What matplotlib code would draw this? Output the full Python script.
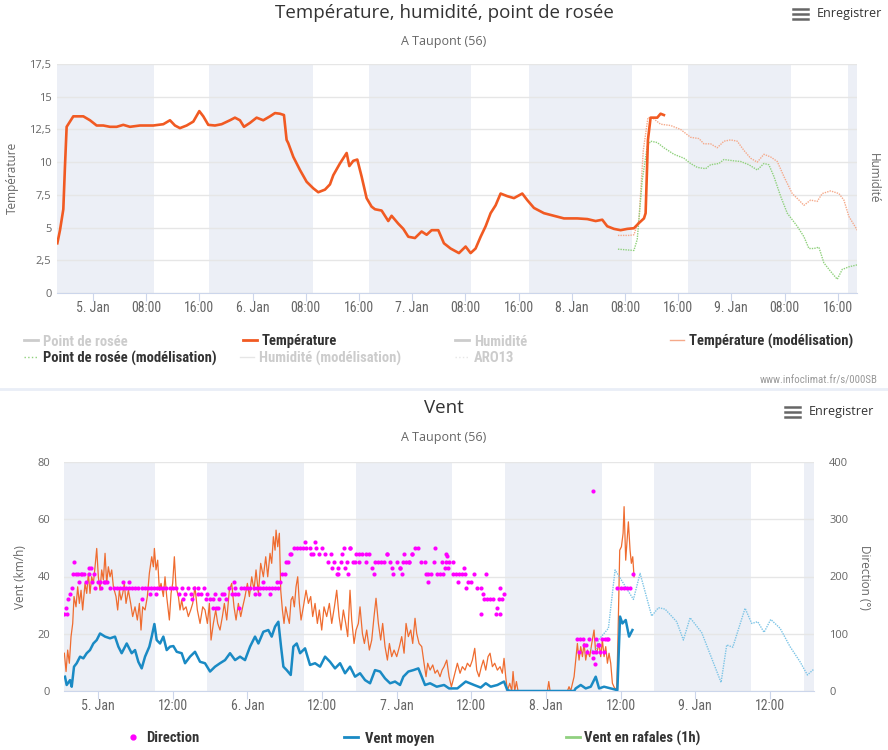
import numpy as np
import matplotlib
matplotlib.use('Agg')
import matplotlib.pyplot as plt
from matplotlib.lines import Line2D

plt.rcParams['font.family'] = ['Open Sans', 'DejaVu Sans']
NARROW = ['Roboto Condensed', 'Roboto', 'DejaVu Sans']

# time axis: hours since 5 Jan 00:00
night_start = [-6.0, 17.45, 41.55, 65.5, 89.45, 113.5]
night_end = [9.2, 33.1, 56.9, 81.0, 105.0, 116.0]

# ---- Température, humidité, point de rosée ----
temp_h = [-5.36, -4.96, -4.71, -4.46, -4.21, -3.96, -3.46, -2.96, -2.21, -1.45,
          -0.45, 0.55, 1.55, 2.56, 3.56, 4.56, 5.56, 7.07, 8.07, 9.07,
          10.58, 11.58, 12.33, 13.08, 14.09, 15.09, 15.99, 16.59, 17.34, 18.35,
          19.35, 20.6, 21.35, 22.1, 22.71, 23.61, 24.61, 25.61, 26.62, 27.37,
          28.12, 28.72, 29.12, 29.37, 30.13, 31.13, 32.13, 33.13, 33.88, 34.89,
          35.64, 36.14, 37.14, 38.15, 38.55, 39.15, 39.75, 40.4, 41.15, 41.9,
          42.41, 43.41, 44.41, 44.91, 45.91, 46.67, 47.42, 48.42, 49.42, 50.18,
          50.93, 51.93, 52.78, 53.78, 55.04, 56.04, 56.79, 57.54, 58.3, 59.05,
          59.8, 60.55, 61.3, 62.31, 63.31, 64.56, 65.31, 66.32, 67.82, 69.32,
          70.83, 72.83, 74.34, 75.59, 76.59, 77.34, 78.35, 79.35, 80.35, 81.35,
          82.11, 82.86, 83.11, 83.46, 83.86, 84.86, 85.36, 85.86]
temp_v = [3.8, 4.8, 5.6, 6.4, 9.7, 12.7, 13.1, 13.5, 13.5, 13.5,
          13.2, 12.8, 12.8, 12.7, 12.7, 12.85, 12.7, 12.8, 12.8, 12.8,
          12.9, 13.2, 12.8, 12.6, 12.8, 13.1, 13.9, 13.5, 12.85, 12.8,
          12.9, 13.2, 13.4, 13.2, 12.7, 13.0, 13.4, 13.2, 13.5, 13.75,
          13.7, 13.6, 11.7, 11.45, 10.4, 9.4, 8.5, 8.0, 7.7, 7.9,
          8.3, 9.0, 9.9, 10.7, 9.7, 10.1, 10.2, 8.9, 7.25, 6.6,
          6.4, 6.3, 5.5, 5.9, 5.3, 4.9, 4.3, 4.2, 4.7, 4.45,
          4.8, 4.8, 3.8, 3.4, 3.05, 3.55, 3.05, 3.4, 4.3, 5.1,
          6.1, 6.7, 7.6, 7.4, 7.25, 7.6, 7.1, 6.5, 6.1, 5.9,
          5.7, 5.7, 5.65, 5.5, 5.6, 5.1, 4.9, 4.8, 4.9, 4.95,
          5.35, 5.7, 6.1, 11.7, 13.4, 13.4, 13.7, 13.6]

tmod_h = [78.95, 80.6, 81.35, 82.11, 82.76, 83.46, 84.11, 85.36, 86.87, 88.37,
          89.87, 91.13, 91.88, 92.88, 93.88, 94.89, 95.89, 96.89, 97.89, 98.9,
          99.9, 100.9, 101.9, 102.91, 103.91, 105.16, 106.17, 106.92, 107.92, 108.92,
          109.67, 110.93, 112.18, 112.93, 113.68, 114.94]
tmod_v = [4.4, 4.4, 4.45, 5.6, 10.9, 13.4, 13.4, 12.9, 12.8, 12.5,
          11.9, 11.8, 11.4, 11.4, 11.1, 11.6, 11.7, 11.6, 10.9, 10.3,
          10.0, 10.6, 10.4, 10.05, 8.9, 7.6, 7.1, 6.7, 7.1, 7.0,
          7.6, 7.8, 7.6, 7.1, 5.85, 4.8]

dmod_h = [78.95, 81.35, 81.85, 82.61, 83.36, 83.86, 84.86, 85.86, 87.37, 88.87,
          89.87, 90.88, 92.13, 92.88, 94.14, 94.89, 96.39, 97.39, 98.65, 99.9,
          100.9, 101.65, 102.41, 103.41, 104.41, 105.91, 106.92, 107.67, 108.42, 109.17,
          109.92, 110.93, 111.93, 112.68, 113.68, 114.94]
dmod_v = [3.35, 3.25, 4.1, 8.65, 11.2, 11.6, 11.5, 11.1, 10.6, 10.3,
          9.9, 9.6, 9.5, 9.8, 9.9, 10.2, 10.1, 10.05, 9.8, 9.4,
          9.9, 9.8, 8.9, 7.4, 6.1, 5.1, 4.3, 3.4, 3.4, 3.5,
          2.3, 1.65, 1.05, 1.8, 2.0, 2.15]

top_ticks = [0, 8, 16, 24, 32, 40, 48, 56, 64, 72, 80, 88, 96, 104, 112]
top_labels = ['5. Jan', '08:00', '16:00', '6. Jan', '08:00', '16:00', '7. Jan', '08:00',
              '16:00', '8. Jan', '08:00', '16:00', '9. Jan', '08:00', '16:00']
temp_yticks = [0, 2.5, 5, 7.5, 10, 12.5, 15, 17.5]
temp_ylabels = ['0', '2,5', '5', '7,5', '10', '12,5', '15', '17,5']

# ---- Vent ----
wind_h = [-5.31, -5.04, -4.5, -4.23, -3.86, -3.43, -2.89, -2.36, -1.82, -1.29,
          -0.75, -0.21, 0.32, 1.13, 1.93, 2.73, 3.27, 3.8, 4.61, 5.41,
          5.95, 6.48, 7.02, 7.56, 8.25, 8.63, 9.06, 9.43, 9.97, 10.5,
          11.04, 11.58, 12.11, 12.65, 13.45, 13.99, 14.79, 15.59, 16.4, 17.2,
          18.01, 18.81, 19.61, 20.42, 21.22, 22.03, 22.83, 23.63, 24.44, 25.24,
          25.78, 26.58, 27.38, 27.92, 28.46, 28.99, 29.42, 29.8, 30.33, 30.98,
          31.4, 31.94, 32.48, 33.28, 34.08, 34.89, 35.69, 36.5, 37.3, 38.1,
          38.91, 39.71, 40.51, 41.32, 42.12, 42.93, 43.73, 44.53, 45.34, 46.14,
          46.95, 47.75, 48.55, 49.09, 49.89, 50.7, 51.5, 52.04, 52.57, 53.38,
          54.45, 55.63, 56.43, 57.77, 59.11, 60.45, 61.52, 62.33, 63.13, 64.2,
          65.27, 65.81, 66.35, 76.53, 76.79, 77.6, 78.4, 79.21, 80.01, 80.55,
          81.35, 82.42, 83.49, 83.92, 84.3, 84.83, 85.37, 85.91]
wind_v = [5.0, 2.1, 3.8, 1.5, 8.5, 9.7, 12.0, 11.4, 13.2, 14.3,
          16.6, 17.8, 20.1, 19.0, 18.4, 19.0, 15.5, 13.2, 16.6, 13.2,
          14.3, 10.2, 7.9, 12.0, 15.5, 19.0, 23.4, 17.8, 16.6, 19.0,
          14.3, 15.5, 15.7, 13.7, 13.2, 9.7, 12.0, 13.7, 10.2, 9.7,
          6.8, 8.5, 9.7, 10.8, 13.2, 10.8, 12.0, 10.8, 15.5, 19.0,
          16.6, 20.7, 21.3, 19.0, 22.5, 24.2, 15.5, 8.5, 7.3, 5.6,
          15.5, 16.6, 13.2, 14.9, 9.1, 9.7, 8.5, 12.0, 10.2, 7.9,
          9.7, 6.2, 8.5, 5.0, 6.2, 3.8, 2.7, 7.3, 6.8, 4.4,
          2.7, 3.3, 2.1, 5.0, 6.8, 7.3, 7.9, 5.0, 2.1, 2.7,
          1.5, 2.1, 0.9, 0.9, 3.3, 2.1, 1.2, 2.7, 1.5, 2.1,
          3.3, 0.3, 0.0, 0.0, 0.9, 2.1, 0.9, 1.5, 5.0, 0.9,
          1.5, 0.9, 0.3, 26.0, 23.6, 24.8, 19.0, 21.3]

gust_h = [-5.41, -5.14, -4.88, -4.61, -4.34, -4.07, -3.86, -3.54, -3.27, -3.0,
          -2.73, -2.47, -2.09, -1.82, -1.55, -1.29, -1.02, -0.75, -0.48, -0.21,
          0.05, 0.32, 0.59, 0.86, 1.13, 1.39, 1.66, 1.93, 2.2, 2.47,
          2.89, 3.16, 3.43, 3.7, 3.97, 4.23, 4.5, 4.88, 5.25, 5.57,
          5.95, 6.32, 6.65, 6.91, 7.18, 7.56, 7.93, 8.25, 8.63, 8.9,
          9.06, 9.32, 9.59, 9.86, 10.13, 10.5, 10.77, 11.04, 11.47, 11.74,
          12.0, 12.27, 12.54, 12.92, 13.18, 13.45, 13.72, 14.15, 14.52, 14.9,
          15.22, 15.59, 15.97, 16.4, 16.83, 17.2, 17.58, 17.9, 18.17, 18.54,
          18.92, 19.24, 19.61, 19.99, 20.31, 20.69, 21.11, 21.49, 21.86, 22.19,
          22.56, 22.94, 23.26, 23.63, 24.01, 24.33, 24.71, 25.08, 25.4, 25.78,
          26.15, 26.58, 26.96, 27.28, 27.65, 27.92, 28.19, 28.46, 28.62, 28.89,
          29.15, 29.37, 29.64, 29.9, 30.17, 30.49, 30.76, 31.03, 31.3, 31.56,
          31.83, 32.1, 32.37, 32.64, 33.01, 33.44, 33.82, 34.19, 34.51, 34.89,
          35.26, 35.58, 35.96, 36.33, 36.76, 37.19, 37.57, 38.0, 38.37, 38.75,
          39.07, 39.44, 39.82, 40.14, 40.51, 40.78, 41.16, 41.48, 41.85, 42.12,
          42.5, 42.82, 43.19, 43.62, 44.0, 44.37, 44.69, 45.07, 45.44, 45.76,
          46.14, 46.52, 46.84, 47.21, 47.59, 48.02, 48.45, 48.82, 49.2, 49.52,
          49.89, 50.27, 50.59, 50.96, 51.23, 51.61, 52.04, 52.41, 52.73, 53.0,
          53.38, 53.81, 54.18, 54.56, 54.98, 55.31, 55.63, 56.06, 56.43, 56.81,
          57.23, 57.77, 58.2, 58.57, 59.0, 59.38, 59.81, 60.18, 60.56, 60.88,
          61.25, 61.63, 61.95, 62.33, 62.7, 63.02, 63.4, 63.77, 64.2, 64.63,
          65.0, 65.27, 65.54, 65.81, 66.19, 66.51, 66.72, 66.99, 67.26, 67.52,
          72.24, 72.46, 72.67, 75.46, 75.72, 75.99, 76.53, 76.79, 77.06, 77.33,
          77.6, 77.87, 78.14, 78.4, 78.67, 79.05, 79.37, 79.74, 80.01, 80.28,
          80.55, 80.81, 81.08, 81.35, 81.62, 81.89, 82.15, 82.42, 82.69, 83.07,
          83.39, 83.6, 83.87, 84.14, 84.41, 84.57, 84.83, 85.1, 85.26, 85.53,
          85.74, 85.96, 86.17]
gust_v = [13.2, 6.8, 14.3, 9.7, 19.0, 23.6, 33.0, 29.4, 36.4, 30.6,
          35.2, 28.3, 37.6, 34.1, 41.1, 34.1, 39.9, 37.6, 43.4, 49.8,
          39.9, 35.2, 42.3, 38.8, 48.1, 37.6, 43.4, 39.9, 42.3, 36.4,
          33.0, 28.3, 35.2, 31.8, 34.1, 37.6, 30.6, 35.2, 30.6, 26.0,
          29.4, 24.8, 30.6, 21.3, 29.4, 28.3, 33.0, 41.1, 46.9, 43.4,
          49.8, 42.3, 45.7, 35.2, 37.6, 33.0, 39.9, 33.0, 24.8, 34.1,
          37.6, 46.9, 36.4, 33.0, 28.3, 31.8, 28.3, 29.4, 26.0, 28.3,
          30.6, 36.4, 28.3, 23.6, 29.4, 28.3, 23.6, 30.6, 17.8, 23.6,
          28.3, 23.6, 21.3, 26.0, 30.6, 24.8, 35.2, 37.6, 29.4, 24.8,
          30.6, 26.0, 29.4, 33.0, 37.6, 33.0, 39.9, 35.2, 42.3, 34.1,
          44.6, 39.9, 46.9, 39.9, 48.1, 44.6, 53.9, 49.2, 56.2, 50.4,
          55.1, 35.2, 28.3, 23.6, 29.4, 26.0, 23.6, 31.8, 33.0, 29.4,
          36.4, 39.9, 30.6, 24.8, 29.4, 35.2, 30.6, 33.0, 26.0, 30.6,
          23.6, 28.3, 21.3, 29.4, 26.0, 30.6, 23.6, 29.4, 35.2, 26.0,
          21.3, 28.3, 23.6, 19.0, 35.2, 24.8, 16.6, 21.3, 23.6, 29.4,
          20.1, 16.6, 21.3, 14.3, 17.8, 26.0, 32.4, 23.6, 17.8, 23.6,
          15.5, 10.8, 16.6, 12.0, 14.3, 12.0, 15.5, 19.0, 13.2, 23.6,
          19.0, 21.3, 16.6, 25.4, 20.1, 16.6, 15.5, 9.7, 5.0, 9.7,
          7.3, 9.1, 6.2, 7.3, 5.0, 7.3, 8.5, 10.8, 5.0, 1.5,
          5.0, 9.7, 6.2, 8.5, 7.3, 9.7, 8.5, 10.8, 14.9, 7.3,
          5.0, 8.5, 10.8, 7.3, 12.0, 13.2, 8.5, 9.7, 7.3, 8.5,
          6.2, 11.4, 5.0, 0.0, 2.7, 0.0, 6.8, 0.0, 3.3, 0.0,
          0.0, 3.3, 0.0, 0.0, 1.5, 0.0, 5.0, 10.8, 16.6, 10.8,
          15.5, 12.0, 16.6, 10.8, 14.3, 12.0, 16.6, 21.3, 13.2, 14.3,
          16.6, 12.0, 17.8, 12.0, 15.5, 9.7, 13.2, 9.7, 2.7, 0.9,
          0.9, 20.1, 49.2, 50.4, 55.1, 64.4, 45.7, 53.9, 59.1, 49.2,
          44.6, 46.9, 39.9]

wmod_h = [79.1, 79.9, 80.44, 82.05, 83.12, 86.07, 87.14, 89.01, 90.09, 91.16,
          93.03, 94.1, 95.18, 97.05, 100.16, 101.07, 102.04, 104.02, 105.09, 106.06,
          107.07, 108.15, 109.65, 111.25, 112.86, 114.04, 115.11]
wmod_v = [15.0, 13.0, 17.8, 21.9, 42.3, 32.0, 41.1, 26.2, 29.1, 28.6,
          24.2, 17.8, 25.6, 20.4, 3.0, 16.1, 15.3, 28.9, 23.6, 24.2,
          20.5, 25.0, 21.9, 15.5, 10.2, 5.6, 7.7]

# direction: one reading every 30 min from -5.5 h, plus scattered extra readings
dir_h = np.arange(-5.5, 86.01, 0.5)
nan = np.nan
dir_v = [135, 135, 170, 205, 205, 190, 205, 190, 205, 190,
         180, 190, 180, 190, 190, 180, 180, 180, 180, 180,
         180, 180, 180, 180, 180, 180, 180, 180, 180, 180,
         180, 180, 180, 180, 180, 180, 180, 170, 180, 170,
         180, 170, 180, 180, 170, 180, 170, 160, 160, 145,
         160, 170, 160, 180, 170, 180, 170, 180, 180, 180,
         180, 180, 180, 180, 180, 180, 180, 180, 180, 180,
         205, 205, 225, 240, 250, 250, 250, 250, 250, 250,
         240, 250, 240, 250, 240, 225, 240, 225, 205, 225,
         250, 225, 250, 225, 240, 225, 240, 225, 240, 215,
         225, 225, 225, 225, 240, 225, 205, 225, 215, 225,
         225, 225, 240, 250, 250, 225, 225, 205, 205, 225,
         205, 205, 205, 225, 225, 225, 205, 205, 205, 205,
         190, 190, 205, 180, 180, 160, 160, 160, 160, 135,
         160, 160, nan, nan, nan, nan, nan, nan, nan, nan,
         nan, nan, nan, nan, nan, nan, nan, nan, nan, nan,
         nan, nan, nan, nan, nan, 90, 90, 90, 80, 90,
         68, 90, 80, 90, 90, 90, nan, nan, 180, 180,
         180, 180, 180, 205]
dirx_h = [-5.1, -4.9, -4.2, -3.8, -3.2, -2.7, -2.2, -1.5, -1.2, -0.7,
          0.3, 1.2, 4.0, 5.0, 7.1, 8.4, 9.4, 13.7, 15.1, 16.0,
          17.4, 18.5, 18.8, 19.3, 20.2, 21.8, 22.0, 22.6, 25.3, 25.8,
          26.5, 27.6, 28.8, 29.2, 30.2, 30.9, 33.3, 34.9, 34.3, 37.6,
          38.6, 39.7, 38.4, 40.2, 39.3, 40.5, 41.3, 42.0, 43.0, 44.3,
          46.4, 47.2, 48.6, 48.8, 49.2, 50.5, 50.0, 52.8, 53.1, 54.2,
          55.3, 56.0, 57.1, 56.1, 55.8, 56.3, 57.8, 58.8, 59.2, 61.5,
          61.9, 62.4, 64.2, 64.6, 64.6, 65.2, 79.5, 77.4, 78.1, 78.6,
          79.6, 79.9, 80.4, 80.7, 81.3, 80.0, 81.9]
dirx_v = [145, 160, 180, 225, 205, 205, 205, 215, 215, 205,
          190, 190, 190, 190, 160, 170, 170, 160, 160, 170,
          160, 145, 170, 145, 170, 190, 170, 145, 170, 170,
          190, 170, 190, 190, 225, 240, 260, 260, 240, 215,
          215, 215, 205, 205, 240, 250, 225, 240, 240, 205,
          240, 215, 215, 205, 240, 240, 225, 205, 190, 250,
          225, 240, 205, 235, 215, 215, 190, 215, 180, 135,
          170, 205, 145, 135, 180, 170, 350, 68, 80, 68,
          57, 48, 80, 68, 68, 68, 90]

bot_ticks = [0, 12, 24, 36, 48, 60, 72, 84, 96, 108]
bot_labels = ['5. Jan', '12:00', '6. Jan', '12:00', '7. Jan', '12:00',
              '8. Jan', '12:00', '9. Jan', '12:00']

W, H = 888, 750
fig = plt.figure(figsize=(W / 100, H / 100), dpi=100)


def fx(x):
    return x / W


def fy(y):
    return 1 - y / H


def fline(x0, x1, y0, y1, **kw):
    fig.add_artist(Line2D([fx(x0), fx(x1)], [fy(y0), fy(y1)], transform=fig.transFigure, **kw))


def legend_text(x, y, s, color='#333333'):
    fig.text(fx(x), fy(y), s, ha='left', va='center_baseline', family=NARROW, fontsize=10.5,
             fontweight='bold', color=color)


def header(y_title, y_sub, title, x_icon, y_icon):
    fig.text(0.5, fy(y_title), title, ha='center', va='center', fontsize=13.5, color='#333333')
    fig.text(0.5, fy(y_sub), 'A Taupont (56)', ha='center', va='center', fontsize=9, color='#666666')
    for d in (-5, 0, 5):
        fline(x_icon, x_icon + 15, y_icon + d, y_icon + d, color='#666666', lw=1.8)
    fig.text(fx(x_icon + 24), fy(y_icon), 'Enregistrer', ha='left', va='center', fontsize=9, color='#333333')


def style_axes(ax, ticks, labels):
    for s in ('top', 'left', 'right'):
        ax.spines[s].set_visible(False)
    ax.spines['bottom'].set_color('#ccd6eb')
    ax.set_xticks(ticks)
    ax.set_xticklabels(labels, family=NARROW, fontsize=10, color='#666666')
    ax.tick_params(axis='x', length=6, color='#ccd6eb', pad=0)
    ax.yaxis.grid(True, color='#e6e6e6', lw=1, zorder=1)
    ax.set_axisbelow(True)
    for s, e in zip(night_start, night_end):
        ax.axvspan(s, e, color='#eceff6', lw=0, zorder=0)


# ---------- top chart ----------
header(13, 41, 'Température, humidité, point de rosée', 793, 14)
ax1 = fig.add_axes([fx(57), fy(293), 800 / W, 229 / H])
style_axes(ax1, top_ticks, top_labels)
ax1.plot(tmod_h, tmod_v, color='#f5a98a', lw=1.0, ls=(0, (1, 0.8)), zorder=3)
ax1.plot(dmod_h, dmod_v, color='#8fd17c', lw=1.0, ls=(0, (1, 0.8)), zorder=3)
ax1.plot(temp_h, temp_v, color='#f15a22', lw=1.9, zorder=4)
ax1.set_xlim(-5.41, 114.9)
ax1.set_ylim(0, 17.5)
ax1.set_yticks(temp_yticks)
ax1.set_yticklabels(temp_ylabels, fontsize=8, color='#666666')
ax1.tick_params(axis='y', length=0, pad=4)
fig.text(fx(12), fy(178), 'Température', rotation=90, ha='center', va='center', fontsize=8.5, color='#666666')
fig.text(fx(873), fy(178), 'Humidité', rotation=270, ha='center', va='center', fontsize=8.5, color='#666666')

leg_top = [
    (24, 340, 'Point de rosée', '#cccccc', 2, '-', False),
    (243, 340, 'Température', '#f15a22', 2, '-', True),
    (455, 340, 'Humidité', '#cccccc', 2, '-', False),
    (670, 340, 'Température (modélisation)', '#f5a98a', 1, '-', True),
    (24, 357, 'Point de rosée (modélisation)', '#8fd17c', 1, ':', True),
    (240, 357, 'Humidité (modélisation)', '#e6e6e6', 1, '-', False),
    (455, 357, 'ARO13', '#e6e6e6', 1, ':', False),
]
for x, y, lab, col, lw, ls, on in leg_top:
    fline(x, x + 14, y, y, color=col, lw=lw, ls=ls)
    legend_text(x + 19, y, lab, '#333333' if on else '#cccccc')
fig.text(fx(878), fy(380), 'www.infoclimat.fr/s/000SB', ha='right', va='center',
         family=NARROW, fontsize=7.8, color='#999999')
fline(0, 888, 389, 389, color='#e9eef7', lw=2)

# ---------- bottom chart ----------
header(408, 438, 'Vent', 785, 412)
ax2 = fig.add_axes([fx(64), fy(691), 750 / W, 229 / H])
style_axes(ax2, bot_ticks, bot_labels)
ax2.plot(gust_h, gust_v, color='#ef6c30', lw=0.9, zorder=3)
ax2.plot(wmod_h, wmod_v, color='#7cc4e6', lw=1.0, ls=(0, (1, 0.8)), zorder=3)
ax2.plot(wind_h, wind_v, color='#1a8ac4', lw=1.8, zorder=4)
ax2.set_xlim(-5.47, 115.1)
ax2.set_ylim(0, 80)
ax2.set_yticks([0, 20, 40, 60, 80])
ax2.tick_params(axis='y', length=0, pad=10, labelsize=8, labelcolor='#666666')

ax3 = ax2.twinx()
ax3.scatter(dir_h, dir_v, s=9, color='#ff00ff', lw=0, zorder=5)
ax3.scatter(dirx_h, dirx_v, s=9, color='#ff00ff', lw=0, zorder=5)
ax3.set_ylim(0, 400)
ax3.set_yticks([0, 100, 200, 300, 400])
ax3.tick_params(axis='y', length=0, pad=11, labelsize=8, labelcolor='#666666')
for s in ax3.spines.values():
    s.set_visible(False)

fig.text(fx(20), fy(577), 'Vent (km/h)', rotation=90, ha='center', va='center', fontsize=8.5, color='#666666')
fig.text(fx(864), fy(577), 'Direction (°)', rotation=270, ha='center', va='center', fontsize=8.5, color='#666666')

fig.add_artist(Line2D([fx(133)], [fy(737)], transform=fig.transFigure, marker='o',
                      ms=3.5, color='#ff00ff', lw=0))
legend_text(146, 737, 'Direction')
fline(344, 358, 737, 737, color='#1a8ac4', lw=2)
legend_text(365, 737, 'Vent moyen')
fline(566, 580, 737, 737, color='#90d080', lw=2)
legend_text(584, 737, 'Vent en rafales (1h)')

fig.savefig('out.png', dpi=100)
